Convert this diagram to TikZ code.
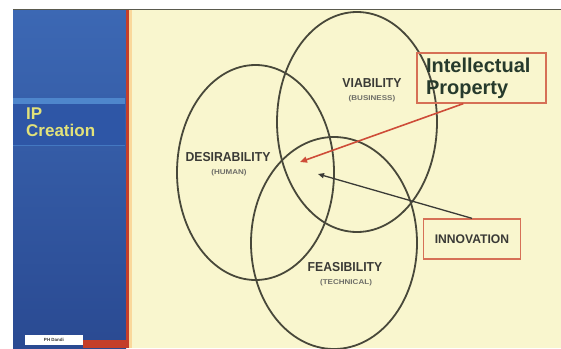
\documentclass[tikz,border=0pt]{standalone}
\usepackage{fontspec}
\setmainfont{Liberation Sans}
\usetikzlibrary{arrows.meta,calc}
\definecolor{cream}{RGB}{249,246,206}
\definecolor{panelTop}{RGB}{60,104,180}
\definecolor{panelBot}{RGB}{42,74,146}
\definecolor{bandLight}{RGB}{78,134,204}
\definecolor{bandDark}{RGB}{46,86,166}
\definecolor{redLine}{RGB}{196,62,42}
\definecolor{ringCol}{RGB}{72,72,58}
\definecolor{labelCol}{RGB}{58,58,54}
\definecolor{subCol}{RGB}{110,110,104}
\definecolor{boxRed}{RGB}{214,112,86}
\definecolor{arrowRed}{RGB}{206,76,56}
\definecolor{ipText}{RGB}{38,58,44}
\definecolor{titleYel}{RGB}{226,226,122}
\tikzset{
  ring/.style={draw=ringCol, line width=1.8pt},
  biglabel/.style={text=labelCol, font=\fontsize{13}{13}\selectfont\bfseries, xscale=0.94, inner sep=0pt},
  sublabel/.style={text=subCol, font=\fontsize{7}{7}\selectfont\bfseries, xscale=1.15, inner sep=0pt},
  callout/.style={draw=boxRed, line width=1.3pt, rectangle},
  paneltitle/.style={anchor=west, text=titleYel, font=\fontsize{17}{17}\selectfont\bfseries, inner sep=0pt},
}
\begin{document}
\begin{tikzpicture}[x=1pt,y=-1pt]
\useasboundingbox (0,0) rectangle (561,348);
\fill[white] (0,0) rectangle (561,348);
% cream slide area
\fill[cream] (126,9) rectangle (561,348);
% left blue panel
\shade[top color=panelTop, bottom color=panelBot] (13,9) rectangle (126,348);
\fill[bandDark] (13,104) rectangle (125,145);
\fill[bandLight] (13,98) rectangle (125,104);
\draw[bandLight!70!bandDark, line width=0.8pt] (13,145) -- (125,145);
% red separator and bottom strip
\fill[redLine] (126,9) rectangle (129,348);
\fill[orange!25!cream] (129,9) rectangle (132,348);
\fill[redLine] (83,340) rectangle (129,348);
% top edge line
\draw[ringCol!90, line width=1.2pt] (13,9.5) -- (561,9.5);
% panel title
\node[paneltitle] (ip) at (26,114) {IP};
\node[paneltitle] (creation) at (26,130) {Creation};
% footer tag
\node[fill=white, minimum width=58pt, minimum height=10pt, inner sep=0pt, font=\fontsize{4.5}{4.5}\selectfont\bfseries, text=black!80] (tag) at (54,340) {PH Dandi};
% the three rings
\draw[ring] (255.5,172.5) ellipse [x radius=78.5, y radius=107.5];
\draw[ring] (357,122) ellipse [x radius=80, y radius=110];
\draw[ring] (334,243) ellipse [x radius=83, y radius=106];
% ring labels
\node[biglabel] (des) at (228,157) {DESIRABILITY};
\node[sublabel] (dessub) at (229,173) {(HUMAN)};
\node[biglabel] (via) at (372,83) {VIABILITY};
\node[sublabel] (viasub) at (372,99) {(BUSINESS)};
\node[biglabel] (fea) at (345,267) {FEASIBILITY};
\node[sublabel] (feasub) at (346,283) {(TECHNICAL)};
% callouts
\node[callout, minimum width=129pt, minimum height=50pt, text width=111pt, inner xsep=9pt, align=left,
      text=ipText, font=\fontsize{20}{22}\selectfont\bfseries] (ipbox) at (481.5,78) {Intellectual\\Property};
\node[callout, minimum width=100pt, minimum height=40pt, text=labelCol,
      font=\fontsize{12.5}{12.5}\selectfont\bfseries, xscale=0.97] (innobox) at (472,239) {INNOVATION};
% arrows
\coordinate (iptip) at (300,162);
\coordinate (innotip) at (318,174);
\draw[arrowRed, line width=1.6pt, -{Triangle[length=7pt,width=6pt]}] ($(ipbox.south west)!0.36!(ipbox.south east)$) -- (iptip);
\draw[labelCol, line width=1.3pt, -{Triangle[length=6pt,width=5pt]}] (innobox.north) -- (innotip);
\end{tikzpicture}
\end{document}
